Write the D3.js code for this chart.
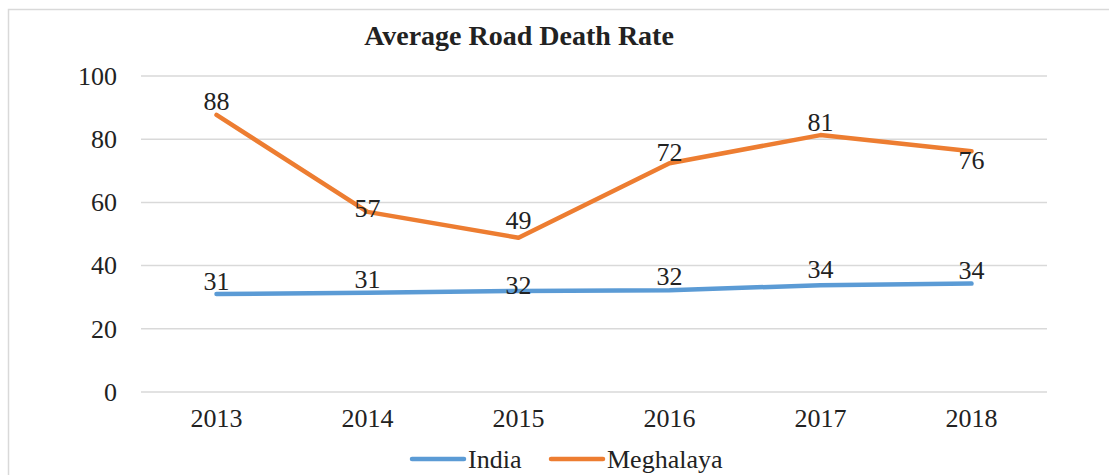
<!DOCTYPE html>
<html>
<head>
<meta charset="utf-8">
<script src="https://cdn.jsdelivr.net/npm/d3@7"></script>
<style>
  body { margin: 0; background: #fff; }
</style>
</head>
<body>
<div id="chart"></div>
<script>
const years = ["2013", "2014", "2015", "2016", "2017", "2018"];
const india = [31.0, 31.4, 32.0, 32.2, 33.8, 34.3];
const meghalaya = [87.7, 57.0, 48.8, 72.4, 81.3, 76.2];
const yTicks = [0, 20, 40, 60, 80, 100];
// label vertical offsets (px, relative to point) to mimic the original placement
const indiaLabelDy = [-13, -14, -6, -14, -16, -14];
const meghalayaLabelDy = [-14, -4, -18, -11, -13, 9];

const FONT = "'Liberation Serif', 'Times New Roman', serif";
const width = 1109, height = 475;
const svg = d3.select("#chart").append("svg").attr("width", width).attr("height", height);

// chart border
svg.append("rect")
  .attr("x", 8.5).attr("y", 9.5)
  .attr("width", 1120).attr("height", 480)
  .attr("fill", "none").attr("stroke", "#d9d9d9").attr("stroke-width", 1.5);

const x = d3.scaleBand().domain(years).range([141, 1047]);
const y = d3.scaleLinear().domain([0, 100]).range([392, 76]);

// grid
svg.append("g")
  .selectAll("line")
  .data(yTicks)
  .enter()
  .append("line")
  .attr("x1", 141).attr("x2", 1047)
  .attr("y1", (d) => y(d)).attr("y2", (d) => y(d))
  .attr("stroke", "#d9d9d9").attr("stroke-width", 1.5);

// y axis labels
const yAxis = d3.axisLeft(y).tickValues(yTicks).tickSize(0).tickPadding(0);
const yG = svg.append("g").attr("transform", "translate(117,0)").call(yAxis);
yG.select(".domain").remove();
yG.selectAll("text").style("font-size", "26px").style("font-family", FONT).attr("fill", "#222");

// x axis labels
const xAxis = d3.axisBottom(x).tickSize(0).tickPadding(0);
const xG = svg.append("g").attr("transform", "translate(0,409)").call(xAxis);
xG.select(".domain").remove();
xG.selectAll("text").style("font-size", "26px").style("font-family", FONT).attr("fill", "#222");

// title
svg.append("text")
  .attr("x", 519).attr("y", 45)
  .attr("text-anchor", "middle")
  .style("font-family", FONT)
  .style("font-size", "28px").style("font-weight", "bold")
  .attr("fill", "#222")
  .text("Average Road Death Rate");

const cx = (i) => x(years[i]) + x.bandwidth() / 2;
const line = d3.line().x((d, i) => cx(i)).y((d) => y(d));

const series = [
  { name: "India", values: india, dy: indiaLabelDy, color: "#5b9bd5" },
  { name: "Meghalaya", values: meghalaya, dy: meghalayaLabelDy, color: "#ed7d31" },
];

series.forEach((s) => {
  svg.append("path")
    .datum(s.values)
    .attr("fill", "none")
    .attr("stroke", s.color)
    .attr("stroke-width", 4.5)
    .attr("stroke-linecap", "round")
    .attr("stroke-linejoin", "round")
    .attr("d", line);
});

series.forEach((s) => {
  svg.append("g")
    .selectAll("text")
    .data(s.values)
    .enter()
    .append("text")
    .attr("x", (d, i) => cx(i))
    .attr("y", (d, i) => y(d) + s.dy[i])
    .attr("dy", "0.35em")
    .attr("text-anchor", "middle")
    .style("font-family", FONT)
    .style("font-size", "26px")
    .attr("fill", "#222")
    .text((d) => Math.round(d));
});

// legend
const legend = svg.append("g").attr("transform", "translate(0,459)");
const legendItems = [
  { s: series[0], x: 412 },
  { s: series[1], x: 551 },
];
legendItems.forEach((it) => {
  legend.append("line")
    .attr("x1", it.x).attr("x2", it.x + 52)
    .attr("y1", 0).attr("y2", 0)
    .attr("stroke", it.s.color).attr("stroke-width", 4.5)
    .attr("stroke-linecap", "round");
  legend.append("text")
    .attr("x", it.x + 56).attr("y", 0)
    .attr("dy", "0.35em")
    .style("font-family", FONT)
    .style("font-size", "26px")
    .attr("fill", "#222")
    .text(it.s.name);
});
</script>
</body>
</html>
